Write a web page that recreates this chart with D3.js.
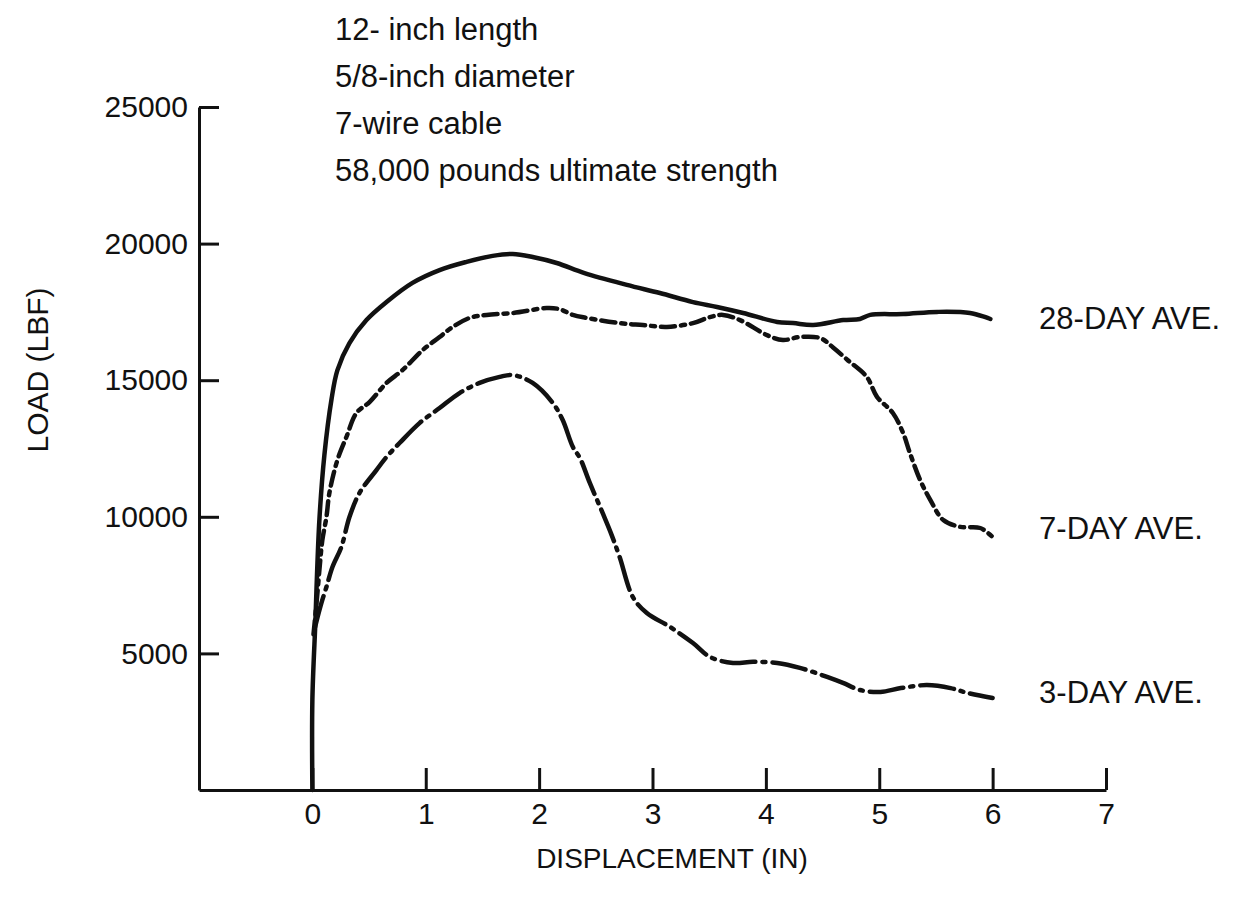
<!DOCTYPE html>
<html>
<head>
<meta charset="utf-8">
<script src="https://cdn.jsdelivr.net/npm/d3@7"></script>
<style>
  body { margin: 0; background: #fff; }
  svg text { font-family: "Liberation Sans", Arial, sans-serif; fill: #111; }
</style>
</head>
<body>
<script>
'use strict';

// tick values
const dispTicks = [0, 1, 2, 3, 4, 5, 6, 7];
const loadTicks = [5000, 10000, 15000, 20000, 25000];

// notes printed above the plot
const noteLines = [
  '12- inch length',
  '5/8-inch diameter',
  '7-wire cable',
  '58,000 pounds ultimate strength'
];

const seriesNames = ['28-DAY AVE.', '7-DAY AVE.', '3-DAY AVE.'];
const labelLoads = [17300, 9600, 3600];

// [displacement (in), load (lbf)]
const day28 = [
  [0, 0], [0.0, 3300], [0.027, 6200], [0.035, 7200], [0.062, 9900], [0.106, 12260],
  [0.168, 14280], [0.221, 15370], [0.327, 16360], [0.477, 17200], [0.654, 17860],
  [0.883, 18560], [1.122, 19030], [1.36, 19330], [1.59, 19550], [1.767, 19620],
  [1.943, 19510], [2.155, 19290], [2.40, 18920], [2.774, 18490], [3.065, 18190],
  [3.357, 17860], [3.569, 17680], [3.799, 17460], [4.10, 17130], [4.24, 17090],
  [4.417, 17020], [4.682, 17200], [4.83, 17240], [4.92, 17390], [5.21, 17420],
  [5.51, 17500], [5.80, 17460], [5.98, 17240]
];

const day7 = [
  [0.01, 5700], [0.04, 7000], [0.065, 8200], [0.088, 9150], [0.124, 9990], [0.15, 10870],
  [0.221, 12080], [0.30, 12920], [0.389, 13800], [0.504, 14200], [0.654, 14900],
  [0.795, 15370], [0.972, 16100], [1.122, 16580], [1.237, 16950], [1.387, 17280],
  [1.537, 17390], [1.767, 17460], [2.067, 17640], [2.18, 17600], [2.297, 17390],
  [2.42, 17280], [2.71, 17090], [2.915, 17020], [3.127, 16950], [3.357, 17090],
  [3.507, 17310], [3.622, 17390], [3.772, 17200], [4.01, 16650], [4.15, 16470],
  [4.30, 16580], [4.48, 16540], [4.59, 16210], [4.72, 15740], [4.89, 15120],
  [4.98, 14390], [5.12, 13800], [5.21, 13070], [5.27, 12340], [5.36, 11350],
  [5.45, 10620], [5.565, 9880], [5.715, 9630], [5.89, 9590], [6.0, 9260]
];

const day3 = [
  [0.02, 5900], [0.044, 6300], [0.08, 6850], [0.124, 7430], [0.177, 8160], [0.256, 8900],
  [0.327, 9990], [0.415, 10870], [0.565, 11710], [0.654, 12190], [0.769, 12700],
  [0.945, 13430], [1.122, 13980], [1.298, 14530], [1.475, 14900], [1.652, 15120],
  [1.767, 15190], [1.943, 14900], [2.12, 14170], [2.208, 13540], [2.297, 12560],
  [2.36, 12150], [2.447, 11240], [2.56, 10140], [2.64, 9330], [2.71, 8530],
  [2.827, 7060], [2.95, 6480], [3.154, 5970], [3.357, 5380], [3.507, 4870],
  [3.71, 4650], [3.887, 4690], [4.10, 4650], [4.30, 4470], [4.54, 4140],
  [4.68, 3920], [4.83, 3660], [5.01, 3590], [5.19, 3730], [5.42, 3840],
  [5.63, 3730], [5.78, 3550], [6.0, 3370]
];

const seriesData = [day28, day7, day3];
const seriesDash = ['none', '14 6 4 6', '34 7 3 7'];

(function() {

  let svg = '';

  window.onload = function() {
    svg = d3.select('body')
      .append('svg')
      .attr('width', 1240)
      .attr('height', 898);

    let scales = drawAxes({min: -1, max: 7}, {min: 0, max: 25000},
      {min: 199, max: 1106}, {min: 790, max: 107});

    plotLines(scales);
    makeLabels(scales);
  }

  function drawAxes(domX, domY, rangeX, rangeY) {
    let xScale = d3.scaleLinear()
      .domain([domX.min, domX.max])
      .range([rangeX.min, rangeX.max]);

    let yScale = d3.scaleLinear()
      .domain([domY.min, domY.max])
      .range([rangeY.min, rangeY.max]);

    let xAxis = d3.axisBottom(xScale)
      .tickValues(dispTicks)
      .tickSizeInner(-22)
      .tickSizeOuter(0)
      .tickPadding(13)
      .tickFormat(d3.format('d'));

    let yAxis = d3.axisLeft(yScale)
      .tickValues(loadTicks)
      .tickSizeInner(-20)
      .tickSizeOuter(0)
      .tickPadding(11)
      .tickFormat(d3.format('d'));

    let gx = svg.append('g')
      .attr('transform', 'translate(0, ' + rangeY.min + ')')
      .call(xAxis);

    let gy = svg.append('g')
      .attr('transform', 'translate(' + rangeX.min + ', 0)')
      .call(yAxis);

    [gx, gy].forEach((g) => {
      g.select('.domain')
        .attr('stroke', '#111')
        .attr('stroke-width', 3);
      g.selectAll('.tick line')
        .attr('stroke', '#111')
        .attr('stroke-width', 3);
      g.selectAll('.tick text')
        .attr('fill', '#111')
        .style('font-size', '30px')
        .style('font-family', '"Liberation Sans", Arial, sans-serif');
    });

    return {xScale: xScale, yScale: yScale};
  }

  function plotLines(scales) {
    let line = d3.line()
      .x((d) => scales.xScale(d[0]))
      .y((d) => scales.yScale(d[1]))
      .curve(d3.curveCatmullRom.alpha(0.5));

    svg.selectAll('.series')
      .data(seriesData)
      .enter()
      .append('path')
        .attr('class', 'series')
        .attr('d', line)
        .attr('fill', 'none')
        .attr('stroke', '#111')
        .attr('stroke-width', 4.5)
        .attr('stroke-linecap', 'round')
        .attr('stroke-linejoin', 'round')
        .attr('stroke-dasharray', (d, i) => seriesDash[i]);
  }

  function makeLabels(scales) {
    svg.selectAll('.note')
      .data(noteLines)
      .enter()
      .append('text')
        .attr('class', 'note')
        .attr('x', 335)
        .attr('y', (d, i) => 40 + i * 47)
        .style('font-size', '31px')
        .text((d) => d);

    svg.selectAll('.series-label')
      .data(seriesNames)
      .enter()
      .append('text')
        .attr('class', 'series-label')
        .attr('x', scales.xScale(6.41))
        .attr('y', (d, i) => scales.yScale(labelLoads[i]))
        .attr('dy', '0.36em')
        .style('font-size', '31px')
        .text((d) => d);

    svg.append('text')
      .attr('x', 672)
      .attr('y', 868)
      .attr('text-anchor', 'middle')
      .style('font-size', '28px')
      .text('DISPLACEMENT (IN)');

    svg.append('text')
      .attr('transform', 'translate(48, 370)rotate(-90)')
      .attr('text-anchor', 'middle')
      .style('font-size', '30px')
      .text('LOAD (LBF)');
  }

})();
</script>
</body>
</html>
